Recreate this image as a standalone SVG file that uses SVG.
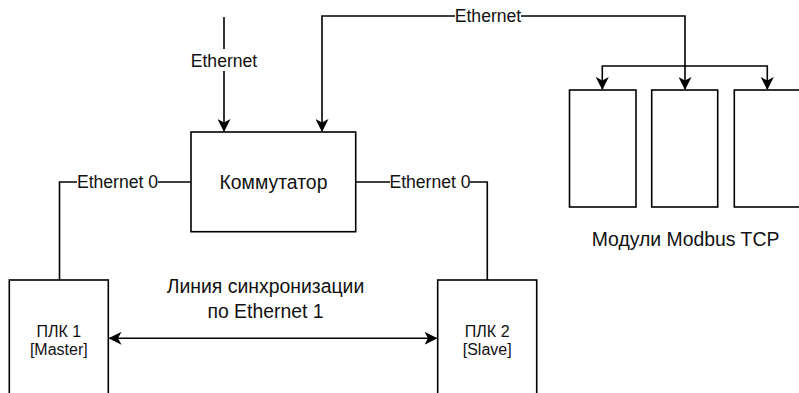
<svg xmlns="http://www.w3.org/2000/svg" width="799" height="393" viewBox="0 0 799 393">
  <style>
    .box { fill: #ffffff; stroke: #000000; stroke-width: 1.6; }
    .wire { fill: none; stroke: #000000; stroke-width: 1.6; }
    .lbl-bg { fill: #ffffff; stroke: none; }
    text { font-family: "Liberation Sans", Arial, sans-serif; fill: #111111; text-anchor: middle; }
    .edge { font-size: 17.6px; }
    .node { font-size: 19.4px; }
    .plc { font-size: 16px; }
  </style>
  <defs>
    <marker id="arrow" viewBox="0 0 13 13" refX="12" refY="6.5" markerWidth="13" markerHeight="13" markerUnits="userSpaceOnUse" orient="auto-start-reverse">
      <path d="M0,0 L13,6.5 L0,13 L3.5,6.5 Z" fill="#000000"/>
    </marker>
  </defs>
  <rect width="799" height="393" fill="#ffffff"/>

  <g id="connectors">
    <!-- incoming Ethernet to switch -->
    <path class="wire" d="M224,17 V131" marker-end="url(#arrow)"/>
    <rect class="lbl-bg" x="190" y="49" width="68" height="22"/>
    <text class="edge" x="224" y="66.5">Ethernet</text>

    <!-- switch to modules -->
    <path class="wire" d="M322,131 V16 H685 V89" marker-start="url(#arrow)" marker-end="url(#arrow)"/>
    <path class="wire" d="M602.3,89 V66 H767.3 V89" marker-start="url(#arrow)" marker-end="url(#arrow)"/>
    <rect class="lbl-bg" x="455" y="6" width="66" height="20"/>
    <text class="edge" x="488" y="22.3">Ethernet</text>

    <!-- switch to PLC1 -->
    <path class="wire" d="M191,182 H59.5 V280"/>
    <rect class="lbl-bg" x="77" y="172" width="81" height="20"/>
    <text class="edge" x="117.5" y="188.3">Ethernet 0</text>

    <!-- switch to PLC2 -->
    <path class="wire" d="M355.7,182 H487.3 V280"/>
    <rect class="lbl-bg" x="390" y="172" width="80" height="20"/>
    <text class="edge" x="430" y="188.3">Ethernet 0</text>

    <!-- sync line -->
    <path class="wire" d="M109.5,338.3 H436.5" marker-start="url(#arrow)" marker-end="url(#arrow)"/>
  </g>

  <g id="sync-label">
    <text class="node" x="265.5" y="292.5">Линия синхронизации</text>
    <text class="node" x="265.5" y="317.5">по Ethernet 1</text>
  </g>

  <g id="switch">
    <rect class="box" x="191" y="132" width="164.7" height="99.7"/>
    <text class="node" x="273.5" y="188.5">Коммутатор</text>
  </g>

  <g id="plc1">
    <rect class="box" x="9.3" y="280" width="99" height="140"/>
    <text class="plc" x="58.8" y="336.7">ПЛК 1</text>
    <text class="plc" x="58.8" y="354.7">[Master]</text>
  </g>

  <g id="plc2">
    <rect class="box" x="437.7" y="280" width="99" height="140"/>
    <text class="plc" x="487.2" y="336.7">ПЛК 2</text>
    <text class="plc" x="487.2" y="354.7">[Slave]</text>
  </g>

  <g id="module1">
    <rect class="box" x="569.5" y="90" width="66.5" height="117"/>
  </g>
  <g id="module2">
    <rect class="box" x="651.7" y="90" width="66" height="117"/>
  </g>
  <g id="module3">
    <rect class="box" x="734.3" y="90" width="66" height="117"/>
  </g>
  <g id="modules-label">
    <text class="node" x="685.5" y="245.5">Модули Modbus TCP</text>
  </g>
</svg>
